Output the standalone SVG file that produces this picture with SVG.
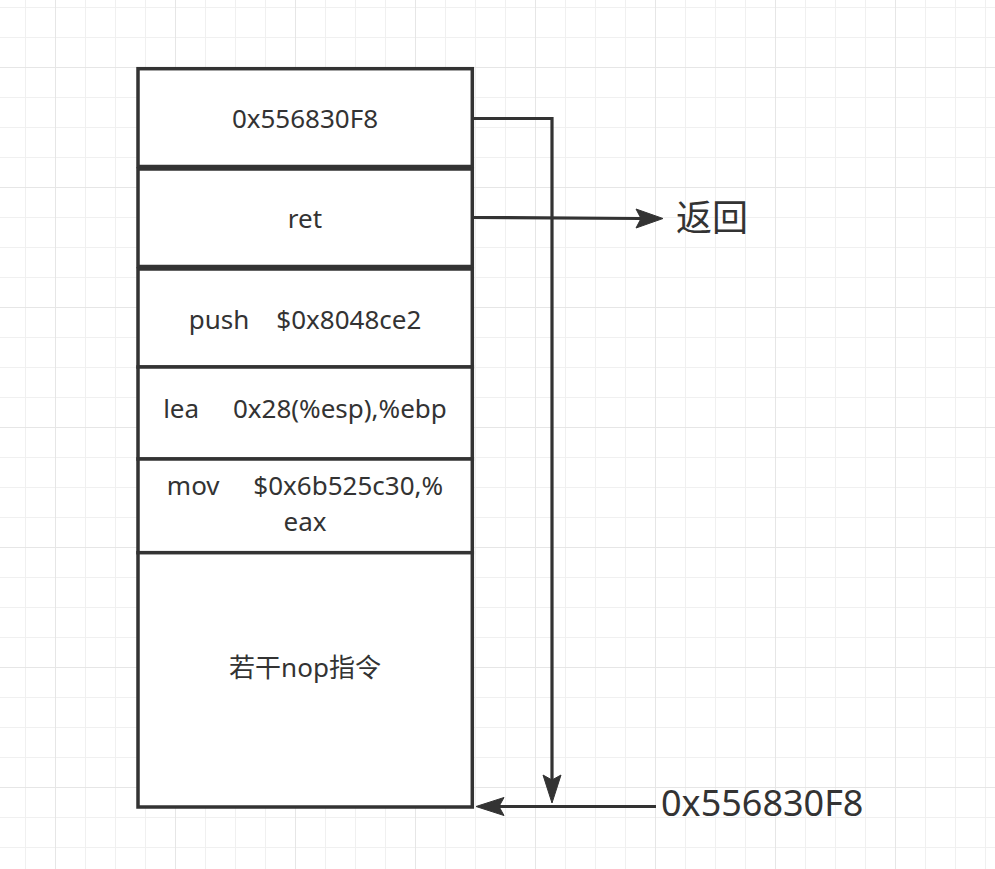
<svg xmlns="http://www.w3.org/2000/svg" width="995" height="869" viewBox="0 0 995 869">
<style>
.box{fill:#ffffff;stroke:#333333;stroke-width:3.5}
.t{font-family:"Noto Sans","Open Sans","Noto Sans CJK SC",sans-serif;font-size:26px;fill:#333333;text-anchor:middle}
.big{font-family:"Noto Sans","Open Sans","Noto Sans CJK SC",sans-serif;font-size:36px;fill:#333333}
.ln{fill:none;stroke:#333333;stroke-width:3.2}
.ah{fill:#333333;stroke:#333333;stroke-width:1}
</style>
<defs>
<pattern id="minor" x="25" y="7" width="30" height="30" patternUnits="userSpaceOnUse">
<path d="M0,0 H30 M0,0 V30" fill="none" stroke="#f0f0f0" stroke-width="2"/>
</pattern>
<pattern id="major" x="55" y="67" width="120" height="120" patternUnits="userSpaceOnUse">
<path d="M0,0 H120 M0,0 V120" fill="none" stroke="#e6e6e6" stroke-width="2"/>
</pattern>
</defs>
<rect width="995" height="869" fill="#ffffff"/>
<rect width="995" height="869" fill="url(#minor)"/>
<rect width="995" height="869" fill="url(#major)"/>

<g id="node-addr">
<rect class="box" x="138" y="68.7" width="334.3" height="97.8"/>
<text class="t" x="305" y="128">0x556830F8</text>
</g>
<g id="node-ret">
<rect class="box" x="138" y="169" width="334.3" height="97.5"/>
<text class="t" x="305" y="228">ret</text>
</g>
<g id="node-push">
<rect class="box" x="138" y="269" width="334.3" height="98"/>
<text class="t" x="305" y="329" xml:space="preserve">push    $0x8048ce2</text>
</g>
<g id="node-lea">
<rect class="box" x="138" y="367" width="334.3" height="92"/>
<text class="t" x="305" y="418" xml:space="preserve">lea     0x28(%esp),%ebp</text>
</g>
<g id="node-mov">
<rect class="box" x="138" y="459" width="334.3" height="93.7"/>
<text class="t" x="305" y="495" xml:space="preserve">mov     $0x6b525c30,%</text>
<text class="t" x="305" y="531">eax</text>
</g>
<g id="node-nop">
<rect class="box" x="138" y="552.7" width="334.3" height="254.3"/>
<text class="t" x="305" y="677">若干nop指令</text>
</g>
<g id="label-return">
<text class="big" x="676" y="231">返回</text>
</g>
<g id="label-addr">
<text class="big" x="661" y="816">0x556830F8</text>
</g>

<g id="connectors">
<path class="ln" d="M472.3,118.5 H552 V780"/>
<path class="ah" d="M552,803 L543,775 L552,780 L561,775 Z"/>
<path class="ln" d="M472.3,217.5 L641,218.5"/>
<path class="ah" d="M663,218.5 L636,209 L641,218.5 L636,228 Z"/>
<path class="ln" d="M656,806.5 H499"/>
<path class="ah" d="M476,806.5 L504,797.5 L499,806.5 L504,815.5 Z"/>
</g>
</svg>
